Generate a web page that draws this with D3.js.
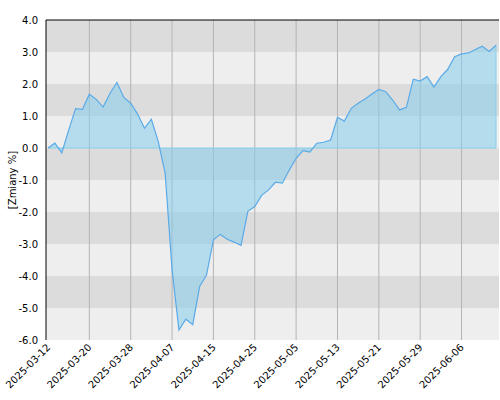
<!DOCTYPE html>
<html><head><meta charset="utf-8">
<script src="https://cdn.jsdelivr.net/npm/d3@7"></script>
<style>body{margin:0;background:#fff}text{font-family:"DejaVu Sans",sans-serif}</style>
</head><body><div id="chart"></div>
<script>
var tickLabels = ["2025-03-12","2025-03-20","2025-03-28","2025-04-07","2025-04-15","2025-04-25","2025-05-05","2025-05-13","2025-05-21","2025-05-29","2025-06-06"];
var yTicks = [4,3,2,1,0,-1,-2,-3,-4,-5,-6];
var values = [0.0,0.15,-0.15,0.56,1.23,1.21,1.68,1.52,1.28,1.71,2.05,1.58,1.40,1.06,0.62,0.90,0.2,-0.79,-3.8,-5.69,
  -5.35,-5.52,-4.33,-3.97,-2.87,-2.70,-2.85,-2.94,-3.04,-1.98,-1.83,-1.48,-1.31,-1.07,-1.10,-0.69,-0.32,-0.08,-0.13,0.15,
  0.18,0.25,0.96,0.84,1.24,1.40,1.53,1.69,1.83,1.76,1.50,1.19,1.27,2.15,2.09,2.23,1.90,2.23,2.46,2.85,
  2.94,2.97,3.08,3.18,3.02,3.21];

var W = 500, H = 400, pLeft = 46, pRight = 499, pTop = 20, pBottom = 340;
var svg = d3.select("#chart").append("svg").attr("width", W).attr("height", H);

var x = d3.scaleLinear().domain([0, values.length - 1]).range([48, 496]);
var y = d3.scaleLinear().domain([-6, 4]).range([pBottom, pTop]);

// bands
for (var v = -6; v < 4; v++) {
	svg.append("rect").attr("x", pLeft).attr("width", pRight - pLeft)
		.attr("y", y(v + 1)).attr("height", y(v) - y(v + 1))
		.attr("fill", ((v + 6) % 2 == 1) ? "#dcdcdc" : "#eeeeee");
}
// vertical grid
tickLabels.forEach(function(t, i) {
	if (i == 0) return;
	svg.append("line").attr("x1", x(i * 6)).attr("x2", x(i * 6))
		.attr("y1", pTop).attr("y2", pBottom).attr("stroke", "#b4b4b4").attr("stroke-width", 1);
});

var area = d3.area().x(function(d, i) { return x(i); }).y0(y(0)).y1(function(d) { return y(d); });
var line = d3.line().x(function(d, i) { return x(i); }).y(function(d) { return y(d); });

svg.append("path").attr("d", area(values)).attr("fill", "rgba(135,206,235,0.55)");
svg.append("line").attr("x1", x(0)).attr("x2", x(values.length - 1)).attr("y1", y(0)).attr("y2", y(0))
	.attr("stroke", "#87ceeb").attr("stroke-width", 1);
svg.append("line").attr("x1", x(values.length - 1)).attr("x2", x(values.length - 1))
	.attr("y1", y(0)).attr("y2", y(values[values.length - 1])).attr("stroke", "#87ceeb").attr("stroke-width", 1);
svg.append("path").attr("d", line(values)).attr("fill", "none").attr("stroke", "#5aaae8").attr("stroke-width", 1.2);

// frame
svg.append("line").attr("x1", pLeft).attr("x2", pRight).attr("y1", pTop).attr("y2", pTop).attr("stroke", "#000");
svg.append("line").attr("x1", pLeft).attr("x2", pLeft).attr("y1", pTop).attr("y2", pBottom).attr("stroke", "#000");

yTicks.forEach(function(t) {
	svg.append("text").attr("x", 38).attr("y", y(t) + 4).attr("text-anchor", "end")
		.attr("font-size", "10px").attr("fill", "#000").text(t.toFixed(1));
});
tickLabels.forEach(function(t, i) {
	var px = x(i * 6);
	svg.append("text").attr("transform", "translate(" + (px + 3) + "," + (pBottom + 8) + ") rotate(-45)")
		.attr("text-anchor", "end").attr("font-size", "10px").attr("fill", "#000").text(t);
});
svg.append("text").attr("transform", "translate(16,180) rotate(-90)").attr("text-anchor", "middle")
	.attr("font-size", "10px").attr("fill", "#000").text("[Zmiany %]");
</script></body></html>
